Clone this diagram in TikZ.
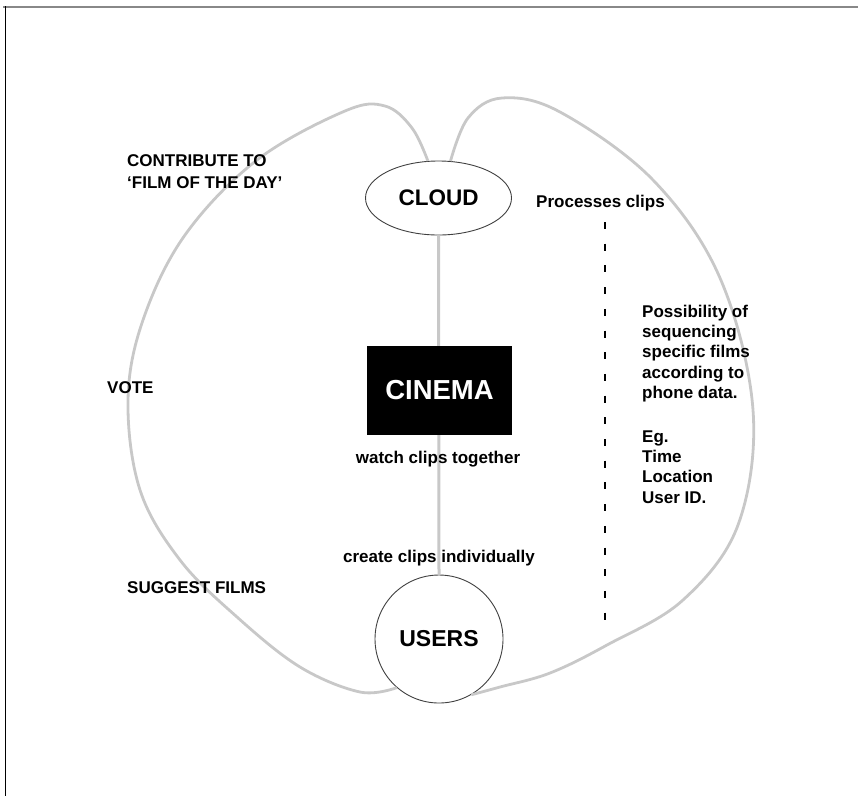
\documentclass[tikz,border=0pt]{standalone}
\usepackage{fontspec}
\setmainfont{Liberation Sans}
\usetikzlibrary{shapes.geometric}
\definecolor{lobegray}{HTML}{C8C8C8}
\definecolor{framegray}{HTML}{888888}
\tikzset{
  lobe/.style={draw=lobegray, line width=2.8pt},
  spine/.style={draw=lobegray, line width=3pt},
  label/.style={inner sep=0pt, font=\fontsize{17}{22}\selectfont\bfseries, align=left},
  hub/.style={draw=black!75, line width=0.9pt, fill=white, inner sep=0pt},
}
\begin{document}
\begin{tikzpicture}[x=1pt, y=1pt]
\useasboundingbox (0,0) rectangle (858,-796);
% frame edges
\draw[framegray, line width=2pt] (3,-6.8) -- (858,-6.8);
\draw[black, line width=1.3pt] (5.3,-6) -- (5.3,-796);

% main hubs
\node[hub, ellipse, minimum width=146pt, minimum height=74pt,
      font=\fontsize{22.5}{22.5}\selectfont\bfseries] (cloud) at (438.5,-198) {CLOUD};
\node[hub, circle, minimum size=128pt,
      font=\fontsize{23}{23}\selectfont\bfseries] (users) at (439,-639) {USERS};

% spine between the hubs, passing behind the cinema block
\draw[spine] (cloud.south) -- (users.north);

\node[fill=black, minimum width=145pt, minimum height=89pt, inner sep=0pt,
      text=white, font=\fontsize{27.5}{27.5}\selectfont\bfseries] (cinema) at (439.5,-390.5) {CINEMA};

% the two lobes joining cloud and users
\draw[lobe] plot[smooth, tension=0.6] coordinates {
  (cloud.106) (412,-128) (385,-106) (345,-111) (257,-160) (185,-235) (143,-320)
  (128,-400) (140,-490) (180,-560) (237,-617) (300,-667) (360,-692) (users.229)};
\draw[lobe] plot[smooth, tension=0.6] coordinates {
  (cloud.72) (468,-118) (502,-98) (560,-112) (653,-180) (720,-278) (753,-410)
  (738,-525) (683,-600) (607,-645) (550,-673) (500,-687) (users.300)};

% dashed separator
\coordinate (dtop) at (605,-222);
\coordinate (dbot) at (605,-630);
\draw[black, line width=2.6pt, dash pattern=on 7pt off 14.7pt] (dtop) -- (dbot);

% labels
\node[label, anchor=base west] (contrib) at (127,-188) {CONTRIBUTE TO\\‘FILM OF THE DAY’};
\node[label, anchor=base west] (vote) at (107,-393) {VOTE};
\node[label, anchor=base west] (suggest) at (127,-593) {SUGGEST FILMS};
\node[label, anchor=base west] (proc) at (536,-207) {Processes clips};
\node[label, anchor=base] (watch) at (438,-463) {watch clips together};
\node[label, anchor=base] (create) at (439,-562) {create clips individually};
\node[label, anchor=base west, text depth=0pt,
      font=\fontsize{17}{20.3}\selectfont\bfseries] (poss) at (642,-503)
  {Possibility of\\sequencing\\specific films\\according to\\phone data.\\[23.5pt]Eg.\\Time\\Location\\User ID.};
\end{tikzpicture}
\end{document}
